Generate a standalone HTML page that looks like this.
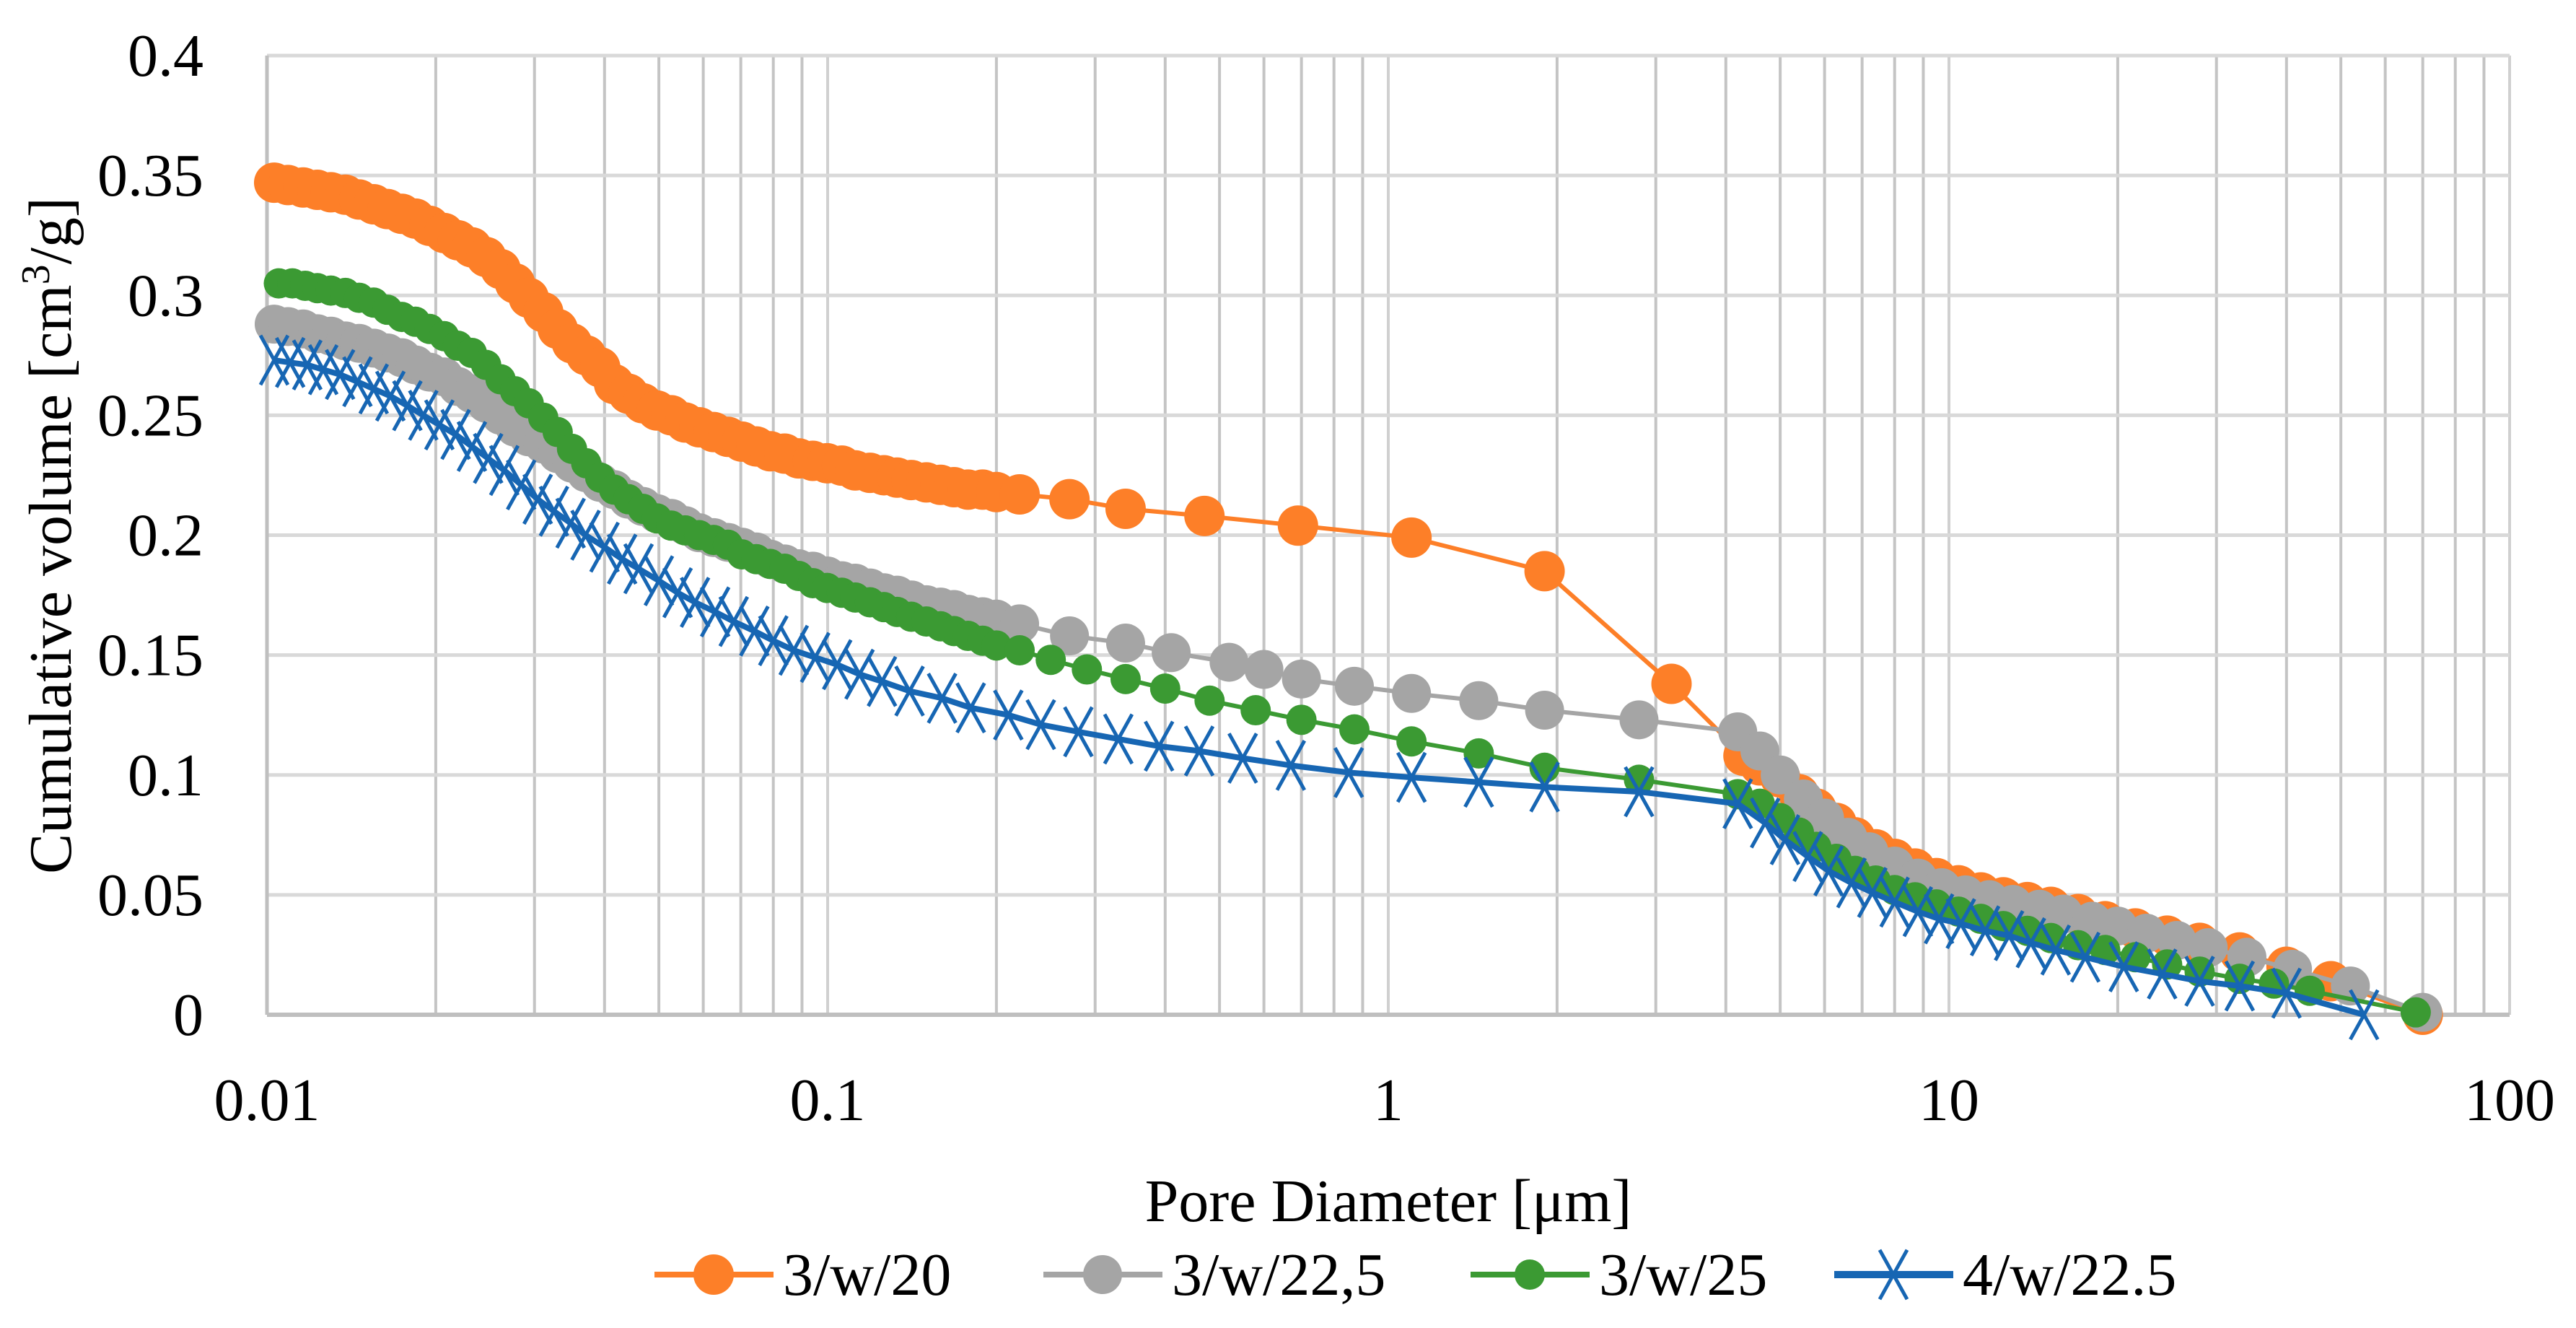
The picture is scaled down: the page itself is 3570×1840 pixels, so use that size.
<!DOCTYPE html>
<html><head><meta charset="utf-8"><style>
html,body{margin:0;padding:0;background:#fff;}
svg{display:block;font-family:"Liberation Serif",serif;}
</style></head><body>
<svg id="chart" width="3570" height="1840" viewBox="0 0 3570 1840" xmlns="http://www.w3.org/2000/svg">
<rect width="3570" height="1840" fill="#fff"/>
<g id="grid"></g>
<g id="yticks"></g>
<g id="xticks"></g>
<g id="series"></g>
<text x="0" y="0" transform="translate(98,742) rotate(-90)" text-anchor="middle" font-size="84">Cumulative volume [cm<tspan dy="-30" font-size="56">3</tspan><tspan dy="30">/g]</tspan></text>
<text x="1924" y="1692" text-anchor="middle" font-size="84">Pore Diameter [μm]</text>
<g id="legend"></g>
</svg>
<script>
const yTicks=[0,0.05,0.1,0.15,0.2,0.25,0.3,0.35,0.4];
const yTickLabels=["0","0.05","0.1","0.15","0.2","0.25","0.3","0.35","0.4"];
const xDecades=[0.01,0.1,1,10,100];
const xTickLabels=["0.01","0.1","1","10","100"];
const seriesNames=["3/w/20","3/w/22,5","3/w/25","4/w/22.5"];

const orangeX=[0.0103,0.0109,0.0116,0.0123,0.013,0.0138,0.0146,0.0155,0.0164,0.0174,0.0184,0.0195,0.0207,0.0219,0.0232,0.0246,0.0261,0.0277,0.0293,0.0311,0.033,0.035,0.0371,0.0393,0.0416,0.0441,0.0468,0.0496,0.0526,0.0557,0.059,0.0626,0.0664,0.0703,0.0746,0.079,0.0838,0.0888,0.0941,0.0998,0.106,0.112,0.119,0.126,0.133,0.141,0.15,0.159,0.168,0.178,0.189,0.2,0.22,0.27,0.34,0.47,0.69,1.1,1.9,3.2,4.3,4.6,5,5.4,5.8,6.3,6.8,7.4,8,8.7,9.5,10.4,11.4,12.5,13.8,15.2,17,19,21.5,24.5,28,33,40,48,70];
const orangeY=[0.347,0.346,0.345,0.344,0.343,0.342,0.340,0.338,0.336,0.334,0.332,0.329,0.326,0.323,0.32,0.316,0.311,0.305,0.299,0.293,0.286,0.28,0.275,0.27,0.263,0.259,0.255,0.252,0.25,0.247,0.245,0.243,0.241,0.239,0.237,0.235,0.234,0.232,0.231,0.23,0.229,0.227,0.226,0.225,0.224,0.223,0.222,0.221,0.220,0.219,0.219,0.218,0.217,0.215,0.211,0.208,0.204,0.199,0.185,0.138,0.108,0.104,0.099,0.092,0.086,0.08,0.074,0.069,0.065,0.061,0.057,0.054,0.051,0.049,0.047,0.045,0.042,0.039,0.036,0.033,0.03,0.026,0.02,0.014,0.0];

const grayX=[0.0103,0.0109,0.0116,0.0123,0.013,0.0138,0.0146,0.0155,0.0164,0.0174,0.0184,0.0195,0.0207,0.0219,0.0232,0.0246,0.0261,0.0277,0.0293,0.0311,0.033,0.035,0.0371,0.0393,0.0416,0.0441,0.0468,0.0496,0.0526,0.0557,0.059,0.0626,0.0664,0.0703,0.0746,0.079,0.0838,0.0888,0.0941,0.0998,0.106,0.112,0.119,0.126,0.133,0.141,0.15,0.159,0.168,0.178,0.189,0.2,0.22,0.27,0.34,0.41,0.52,0.6,0.7,0.87,1.1,1.45,1.9,2.8,4.2,4.6,5,5.5,6,6.6,7.2,8,8.8,9.7,10.7,11.8,13,14.5,16,18,20,22.5,25.5,29,34,41,52,70];
const grayY=[0.288,0.287,0.286,0.284,0.283,0.281,0.28,0.278,0.276,0.274,0.271,0.268,0.266,0.262,0.259,0.255,0.25,0.245,0.241,0.238,0.234,0.23,0.226,0.222,0.219,0.215,0.212,0.209,0.207,0.204,0.201,0.199,0.197,0.195,0.193,0.19,0.188,0.186,0.185,0.183,0.181,0.18,0.178,0.176,0.175,0.173,0.171,0.17,0.169,0.167,0.166,0.165,0.163,0.158,0.155,0.151,0.147,0.144,0.14,0.137,0.134,0.131,0.127,0.123,0.118,0.11,0.1,0.09,0.082,0.074,0.068,0.062,0.057,0.053,0.05,0.048,0.046,0.044,0.042,0.039,0.037,0.034,0.031,0.028,0.024,0.019,0.012,0.001];

const greenX=[0.0105,0.0111,0.0117,0.0123,0.013,0.0138,0.0146,0.0155,0.0164,0.0174,0.0184,0.0195,0.0207,0.0219,0.0232,0.0246,0.0261,0.0277,0.0293,0.0311,0.033,0.035,0.0371,0.0393,0.0416,0.0441,0.0468,0.0496,0.0526,0.0557,0.059,0.0626,0.0664,0.0703,0.0746,0.079,0.0838,0.0888,0.0941,0.0998,0.106,0.112,0.119,0.126,0.133,0.141,0.15,0.159,0.168,0.178,0.189,0.2,0.22,0.25,0.29,0.34,0.4,0.48,0.58,0.7,0.87,1.1,1.45,1.9,2.8,4.2,4.6,5,5.4,5.8,6.3,6.8,7.4,8,8.7,9.5,10.4,11.4,12.5,13.8,15.2,17,19,21.5,24.5,28,33,38,44,68];
const greenY=[0.305,0.305,0.304,0.303,0.302,0.301,0.299,0.297,0.294,0.291,0.289,0.286,0.283,0.279,0.276,0.271,0.265,0.26,0.255,0.249,0.243,0.236,0.23,0.224,0.219,0.215,0.211,0.207,0.204,0.202,0.2,0.198,0.196,0.192,0.19,0.188,0.186,0.183,0.18,0.178,0.176,0.174,0.172,0.17,0.168,0.166,0.164,0.162,0.16,0.158,0.156,0.154,0.152,0.148,0.144,0.14,0.136,0.131,0.127,0.123,0.119,0.114,0.109,0.103,0.098,0.092,0.088,0.082,0.076,0.07,0.065,0.06,0.056,0.052,0.049,0.046,0.043,0.04,0.037,0.035,0.032,0.029,0.027,0.024,0.021,0.018,0.015,0.013,0.01,0.001];

const blueX=[0.0103,0.011,0.0118,0.0126,0.0135,0.0145,0.0155,0.0166,0.0178,0.019,0.0203,0.0217,0.0232,0.0248,0.0265,0.0284,0.0304,0.0325,0.0348,0.037,0.04,0.043,0.046,0.05,0.054,0.058,0.063,0.068,0.074,0.08,0.087,0.095,0.104,0.114,0.125,0.14,0.16,0.18,0.21,0.24,0.28,0.33,0.39,0.46,0.55,0.67,0.85,1.1,1.45,1.9,2.8,4.2,4.7,5.1,5.6,6.1,6.7,7.3,8,8.8,9.6,10.5,11.6,12.8,14,15.5,17.5,20.5,24,28,33,40,55];
const blueY=[0.273,0.272,0.271,0.269,0.267,0.264,0.261,0.258,0.254,0.25,0.246,0.242,0.237,0.232,0.227,0.221,0.215,0.21,0.205,0.2,0.195,0.19,0.186,0.181,0.176,0.172,0.168,0.164,0.16,0.156,0.152,0.149,0.146,0.142,0.139,0.135,0.132,0.128,0.125,0.121,0.118,0.115,0.112,0.11,0.107,0.104,0.101,0.099,0.097,0.095,0.093,0.088,0.08,0.073,0.066,0.06,0.055,0.051,0.047,0.043,0.04,0.038,0.035,0.033,0.03,0.027,0.024,0.02,0.017,0.014,0.012,0.009,0.0];

const NS="http://www.w3.org/2000/svg";
const L=370,R=3478,T=77,B=1406;
function xs(v){return L+(Math.log10(v)+2)/4*(R-L);}
function ys(v){return B-v/0.4*(B-T);}
function mk(tag,attrs,parent){const e=document.createElementNS(NS,tag);for(const k in attrs)e.setAttribute(k,attrs[k]);parent.appendChild(e);return e;}

const grid=document.getElementById('grid');
for(let d=0;d<4;d++){
  for(let m=1;m<=10;m++){
    const v=xDecades[d]*m;
    const ln=mk('line',{x1:xs(v),x2:xs(v),y1:T,y2:B,stroke:(m===1||m===10)?'#d0d0d0':'#c4c4c4','stroke-width':4},grid);
    
    
  }
}
yTicks.forEach((t,i)=>{
  const ln=mk('line',{x1:L,x2:R,y1:ys(t),y2:ys(t),stroke:i===0?'#bfbfbf':'#d9d9d9','stroke-width':i===0?6:5},grid);
  
  
  const tx=mk('text',{x:282,y:ys(t)+28,'text-anchor':'end','font-size':84},document.getElementById('yticks'));
  tx.textContent=yTickLabels[i];
  
  
});
const lax=mk('line',{x1:L,x2:L,y1:T,y2:B,stroke:'#bfbfbf','stroke-width':5},grid);


xDecades.forEach((v,i)=>{
  const tx=mk('text',{x:xs(v),y:1552,'text-anchor':'middle','font-size':84},document.getElementById('xticks'));
  tx.textContent=xTickLabels[i];
  
  
});

const cfg=[
 {x:orangeX,y:orangeY,c:'#fd7f28',w:6,type:'circle',r:28},
 {x:grayX,y:grayY,c:'#a5a5a5',w:6,type:'circle',r:27},
 {x:greenX,y:greenY,c:'#3b9a33',w:6,type:'circle',r:21},
 {x:blueX,y:blueY,c:'#1766b3',w:8,type:'x',r:19}
];
const sg=document.getElementById('series');
function marker(s,cx,cy,parent){
  if(s.type==='circle'){
    const c=mk('circle',{cx:cx,cy:cy,r:s.r,fill:s.c},parent);
    
    
  } else {
    const p=mk('path',{d:`M${cx-s.r},${cy-s.r*1.8}L${cx+s.r},${cy+s.r*1.8}M${cx-s.r},${cy+s.r*1.8}L${cx+s.r},${cy-s.r*1.8}`,stroke:s.c,'stroke-width':5,fill:'none'},parent);
    
    
  }
}
cfg.forEach((s,si)=>{
  const g=mk('g',{},sg);
  
  
  const pts=s.x.map((v,i)=>xs(v).toFixed(1)+','+ys(s.y[i]).toFixed(1)).join(' ');
  const pl=mk('polyline',{points:pts,fill:'none',stroke:s.c,'stroke-width':s.w},g);
  
  
  s.x.forEach((v,i)=>marker(s,xs(v),ys(s.y[i]),g));
});

const lg=document.getElementById('legend');
const legX=[907,1446,2038,2542];
cfg.forEach((s,i)=>{
  const g=mk('g',{},lg);
  
  
  const y=1766,x0=legX[i];
  mk('line',{x1:x0,x2:x0+165,y1:y,y2:y,stroke:s.c,'stroke-width':s.w+2},g);
  marker(s,x0+82,y,g);
  const t=mk('text',{x:x0+178,y:y+28,'font-size':84},g);
  t.textContent=seriesNames[i];
  
  
});
</script>
</body></html>
